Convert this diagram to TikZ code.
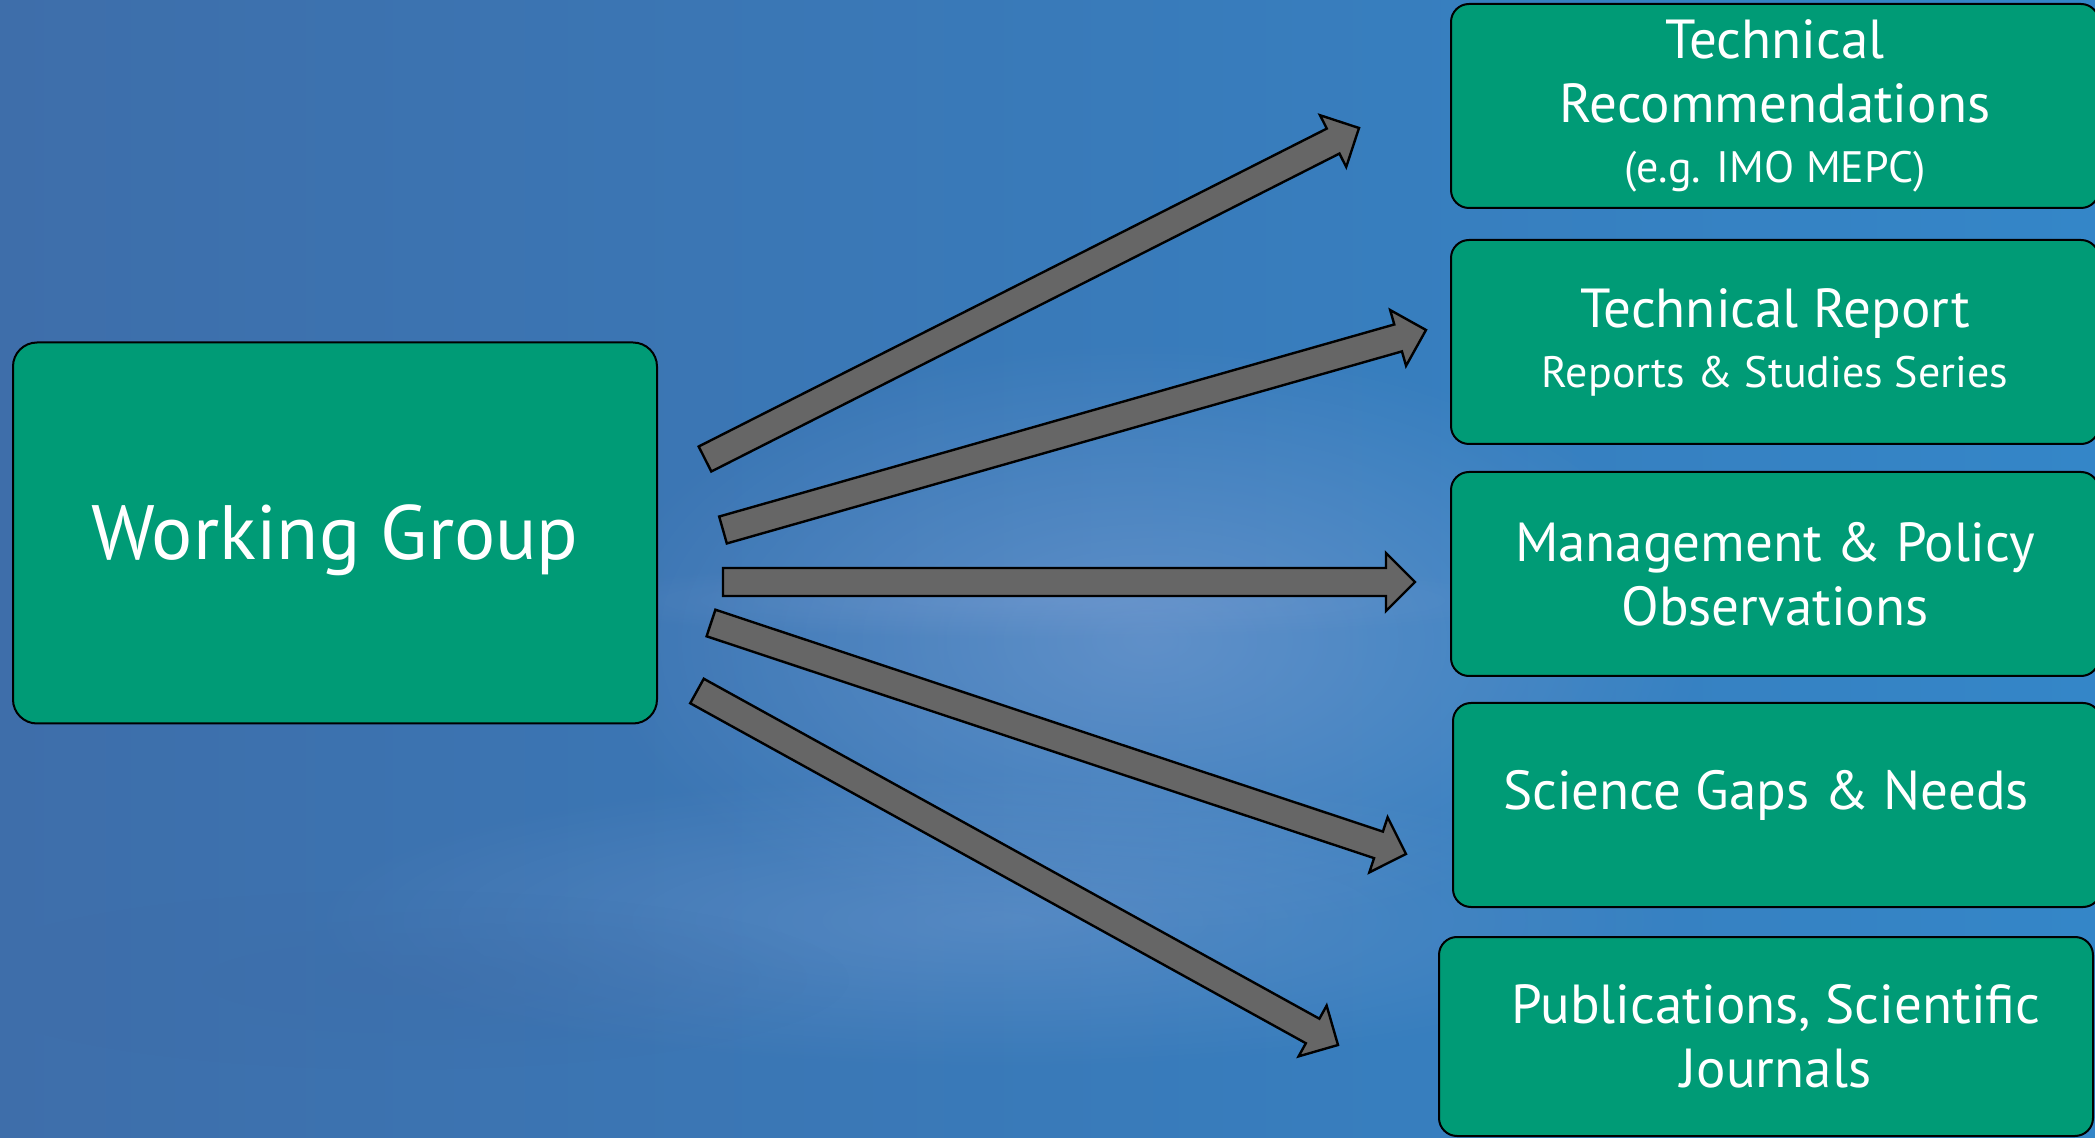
\documentclass[tikz,border=0pt]{standalone}
\usepackage{fontspec}
\setmainfont{PT Sans}
\usetikzlibrary{calc}
\usetikzlibrary{fadings}

\definecolor{wgGreen}{RGB}{0,155,118}
\definecolor{arrowGray}{RGB}{102,102,102}
\definecolor{seaDark}{RGB}{62,110,170}
\definecolor{seaMid}{RGB}{52,134,200}
\definecolor{seaLight}{RGB}{135,165,215}

\tikzfading[name=soft blob, inner color=transparent!0, outer color=transparent!100]

% fat block arrow from #1 (tail middle) to #2 (tip)
\newcommand{\outarrow}[2]{%
  \draw[fat arrow] let \p1=($(#2)-(#1)$), \n1={atan2(\y1,\x1)} in
    ($(#1)+(\n1+90:7pt)$) -- ($(#2)+(\n1:-14.5pt)+(\n1+90:7pt)$)
    -- ($(#2)+(\n1:-14.5pt)+(\n1+90:14.5pt)$) -- (#2)
    -- ($(#2)+(\n1:-14.5pt)+(\n1-90:14.5pt)$)
    -- ($(#2)+(\n1:-14.5pt)+(\n1-90:7pt)$)
    -- ($(#1)+(\n1-90:7pt)$) -- cycle;}

\begin{document}
\begin{tikzpicture}[x=0.5pt,y=-0.5pt,
    group/.style={
% The shape:
rectangle, rounded corners=12pt,
% The size:
minimum width=322pt,
minimum height=190.5pt,
% The border:
draw=black, line width=1pt, fill=wgGreen,
% The text:
text=white, font=\fontsize{38.5}{46}\selectfont
},
    result/.style={
% The shape:
rectangle, rounded corners=9pt,
% The size:
minimum width=324pt,
minimum height=102pt,
% The border:
draw=black, line width=1pt, fill=wgGreen,
% The text:
text=white, align=center, font=\fontsize{27.5}{32}\selectfont
},
    fat arrow/.style={draw=black, line width=1.2pt, fill=arrowGray, line join=miter},
]
  \useasboundingbox (0,0) rectangle (2095,1138);
  % sea background
  \shade[left color=seaDark, right color=seaMid] (0,0) rectangle (2095,1138);
  \fill[seaLight, opacity=0.5, path fading=soft blob] (1150,640) ellipse (560 and 300);
  \fill[seaLight, opacity=0.35, path fading=soft blob] (1000,920) ellipse (700 and 150);
  \fill[seaLight, opacity=0.3, path fading=soft blob] (1050,600) ellipse (500 and 40);
  \fill[seaDark, opacity=0.6, path fading=soft blob] (400,980) ellipse (450 and 90);

  \node[group]                          (wg)     at (335,533)   {\raisebox{-13.5pt}[0pt][0pt]{Working Group}};

  \node[result]                         (tecrec) at (1775,106)  {Technical\\Recommendations\\[-2pt]{\fontsize{22}{28}\selectfont (e.g. IMO MEPC)}};
  \node[result]                         (tecrep) at (1775,342)  {Technical Report\\[-2pt]{\fontsize{22}{28}\selectfont Reports \& Studies Series}};
  \node[result]                         (mgmt)   at (1775,574)  {Management \& Policy\\Observations};
  \node[result]                         (gaps)   at (1777,805)  {\hspace*{-11pt}\raisebox{-2.5pt}[0pt][0pt]{Science Gaps \& Needs}};
  \node[result,minimum width=327pt,minimum height=99.5pt] (pubs) at (1766,1036.5) {\hspace*{10pt}Publications, Scientific\\\hspace*{10pt}Journals};

  \coordinate (a1s) at (705,459);  \coordinate (a1e) at (1359,128);
  \coordinate (a2s) at (723,530);  \coordinate (a2e) at (1426,330);
  \coordinate (a3s) at (723,582);  \coordinate (a3e) at (1415,582);
  \coordinate (a4s) at (711,623);  \coordinate (a4e) at (1406,854);
  \coordinate (a5s) at (697,691);  \coordinate (a5e) at (1338,1045);

  \outarrow{a1s}{a1e}
  \outarrow{a2s}{a2e}
  \outarrow{a3s}{a3e}
  \outarrow{a4s}{a4e}
  \outarrow{a5s}{a5e}
\end{tikzpicture}
\end{document}
